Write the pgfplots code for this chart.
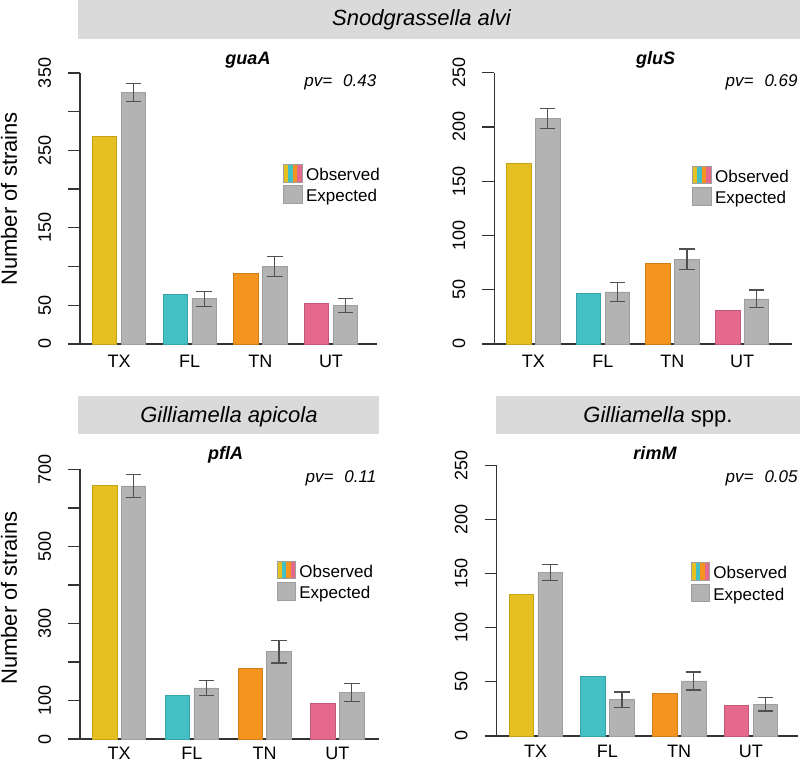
\documentclass[border=0pt]{standalone}
\usepackage{fontspec}
\setmainfont{Liberation Sans}
\usepackage{pgfplots}
\usepackage{pgfplotstable}
\pgfplotsset{compat=1.18}
\definecolor{cY}{HTML}{E6C021}
\definecolor{cC}{HTML}{42C0C3}
\definecolor{cO}{HTML}{F5951F}
\definecolor{cP}{HTML}{E5698C}
\definecolor{cG}{HTML}{B3B3B3}
\definecolor{cGb}{HTML}{9E9E9E}
\definecolor{banner}{HTML}{DADADA}
\definecolor{axc}{HTML}{333333}
\definecolor{errc}{HTML}{505050}

\pgfplotstableread{
x obs exp err
0 268 325 11.5
1 64 58.5 9.7
2 91 100 12.7
3 52 50 9
}\tA
\pgfplotstableread{
x obs exp err
0 166.5 208 9.2
1 47 48 8.9
2 74 78 9.6
3 31 41.5 8.2
}\tB
\pgfplotstableread{
x obs exp err
0 659 657 29.5
1 113 133 20
2 183 227 29.5
3 93 121 23
}\tC
\pgfplotstableread{
x obs exp err
0 131 151 7.1
1 55 33.6 7
2 39 50.8 8.2
3 28 29.5 6.3
}\tD

\pgfplotsset{
  panel/.style={
    scale only axis, clip=false, anchor=south west,
    axis y line*=left, axis x line*=bottom,
    x axis line style={draw=none},
    y axis line style={axc, line width=0.65pt, -},
    ytick style={axc, line width=0.65pt},
    xtick style={draw=none},
    tick align=outside, major tick length=6pt,
    ymin=0, xtick={0,1,2,3}, xticklabels={TX,FL,TN,UT},
    tick label style={font=\fontsize{9}{10}\selectfont},
    xticklabel style={yshift=4pt},
    yticklabel style={rotate=90, anchor=south, yshift=5pt},
    /pgf/number format/assume math mode=true,
  },
  obsbar/.style={ybar, bar width=12.25pt, bar shift=0pt, fill=#1, draw=#1!85!black, line width=0.35pt},
  expbar/.style={ybar, bar width=12.25pt, bar shift=0pt, fill=cG, draw=cGb, line width=0.35pt,
    error bars/.cd, y dir=both, y explicit,
    error bar style={errc, line width=0.65pt},
    error mark options={errc, line width=0.65pt, mark size=3.85pt, rotate=90}},
}

\newcommand{\obsleg}[2]{%
  \fill[cY] (#1,#2) rectangle ++(2.2875pt,-8.85pt);
  \fill[cC] (#1+2.2875pt,#2) rectangle ++(2.2875pt,-8.85pt);
  \fill[cO] (#1+4.575pt,#2) rectangle ++(2.2875pt,-8.85pt);
  \fill[cP] (#1+6.8625pt,#2) rectangle ++(2.2875pt,-8.85pt);
  \draw[cGb, line width=0.3pt] (#1,#2) rectangle ++(9.15pt,-8.85pt);
  \fill[cG, draw=cGb, line width=0.3pt] (#1,#2-10.7pt) rectangle ++(9.15pt,-8.85pt);
  \node[anchor=base west, inner sep=0pt, font=\fontsize{8.5}{10}\selectfont] at (#1+11pt,#2-8.1pt) {Observed};
  \node[anchor=base west, inner sep=0pt, font=\fontsize{8.5}{10}\selectfont] at (#1+11pt,#2-18.85pt) {Expected};
}

\begin{document}
\begin{tikzpicture}
\useasboundingbox (0,0) rectangle (400pt,381.5pt);

% banners
\fill[banner] (39pt,381.5pt) rectangle (400pt,362pt);
\node[font=\fontsize{11}{13}\selectfont\itshape] at (210.75pt,371.5pt) {Snodgrassella alvi};
\fill[banner] (39pt,183.65pt) rectangle (189.5pt,164.35pt);
\node[font=\fontsize{11}{13}\selectfont\itshape] at (114.5pt,173.15pt) {Gilliamella apicola};
\fill[banner] (248pt,183.65pt) rectangle (400pt,164.35pt);
\node[font=\fontsize{11}{13}\selectfont] at (329pt,173.15pt) {\textit{Gilliamella} spp.};

% y labels
\node[rotate=90, inner sep=0pt, font=\fontsize{11}{13}\selectfont] at (4.5pt,282pt) {Number of strains};
\node[rotate=90, inner sep=0pt, font=\fontsize{11}{13}\selectfont] at (4.5pt,82.5pt) {Number of strains};

% Panel 1 guaA
\begin{axis}[panel, at={(40pt,209.5pt)}, width=148.5pt, height=135.5pt,
  xmin=-0.552, xmax=3.651, ymax=350,
  ytick={0,50,...,350}, yticklabels={0,50,,150,,250,,350}]
\draw[axc, line width=0.9pt] (axis cs:-0.722,0) -- (axis cs:3.651,0);
\addplot[obsbar=cY] coordinates {(-0.205,268)};
\addplot[obsbar=cC] coordinates {(0.795,64)};
\addplot[obsbar=cO] coordinates {(1.795,91)};
\addplot[obsbar=cP] coordinates {(2.795,52)};
\addplot[expbar] table[x expr=\thisrow{x}+0.205, y=exp, y error=err] {\tA};
\end{axis}

% Panel 2 gluS
\begin{axis}[panel, at={(247.15pt,209.5pt)}, width=148.85pt, height=135.65pt,
  xmin=-0.560, xmax=3.717, ymax=250,
  ytick={0,50,...,250}]
\draw[axc, line width=0.9pt] (axis cs:-0.741,0) -- (axis cs:3.717,0);
\addplot[obsbar=cY] coordinates {(-0.208,166.5)};
\addplot[obsbar=cC] coordinates {(0.792,47)};
\addplot[obsbar=cO] coordinates {(1.792,74)};
\addplot[obsbar=cP] coordinates {(2.792,31)};
\addplot[expbar] table[x expr=\thisrow{x}+0.208, y=exp, y error=err] {\tB};
\end{axis}

% Panel 3 pflA
\begin{axis}[panel, at={(40pt,11.85pt)}, width=149.5pt, height=135pt,
  xmin=-0.536, xmax=3.571, ymax=700, xticklabel style={yshift=1.5pt},
  ytick={0,100,...,700}, yticklabels={0,100,,300,,500,,700}]
\draw[axc, line width=0.9pt] (axis cs:-0.701,0) -- (axis cs:3.571,0);
\addplot[obsbar=cY] coordinates {(-0.198,659)};
\addplot[obsbar=cC] coordinates {(0.802,113)};
\addplot[obsbar=cO] coordinates {(1.802,183)};
\addplot[obsbar=cP] coordinates {(2.802,93)};
\addplot[expbar] table[x expr=\thisrow{x}+0.198, y=exp, y error=err] {\tC};
\end{axis}

% Panel 4 rimM
\begin{axis}[panel, at={(248.35pt,13.5pt)}, width=150.65pt, height=135.35pt,
  xmin=-0.544, xmax=3.658, ymax=250, xticklabel style={yshift=0.8pt},
  ytick={0,50,...,250}]
\draw[axc, line width=0.9pt] (axis cs:-0.707,0) -- (axis cs:3.658,0);
\addplot[obsbar=cY] coordinates {(-0.202,131)};
\addplot[obsbar=cC] coordinates {(0.798,55)};
\addplot[obsbar=cO] coordinates {(1.798,39)};
\addplot[obsbar=cP] coordinates {(2.798,28)};
\addplot[expbar] table[x expr=\thisrow{x}+0.202, y=exp, y error=err] {\tD};
\end{axis}

% titles
\node[anchor=base, inner sep=0pt, font=\fontsize{9}{11}\selectfont\bfseries\itshape] at (124pt,349pt) {guaA};
\node[anchor=base, inner sep=0pt, font=\fontsize{9}{11}\selectfont\bfseries\itshape] at (327.75pt,349pt) {gluS};
\node[anchor=base, inner sep=0pt, font=\fontsize{9}{11}\selectfont\bfseries\itshape] at (112.85pt,151.5pt) {pflA};
\node[anchor=base, inner sep=0pt, font=\fontsize{9}{11}\selectfont\bfseries\itshape] at (327.5pt,151.5pt) {rimM};

% p-values
\node[anchor=east, inner sep=0pt, font=\fontsize{8.5}{10}\selectfont\itshape] at (188.35pt,340.5pt) {pv=\hspace{5.5pt}0.43};
\node[anchor=east, inner sep=0pt, font=\fontsize{8.5}{10}\selectfont\itshape] at (399pt,340.5pt) {pv=\hspace{5.5pt}0.69};
\node[anchor=east, inner sep=0pt, font=\fontsize{8.5}{10}\selectfont\itshape] at (188.35pt,142.15pt) {pv=\hspace{5.5pt}0.11};
\node[anchor=east, inner sep=0pt, font=\fontsize{8.5}{10}\selectfont\itshape] at (399pt,142.15pt) {pv=\hspace{5.5pt}0.05};

% legends
\obsleg{141.85pt}{299.35pt}
\obsleg{346.35pt}{298.5pt}
\obsleg{138.5pt}{101pt}
\obsleg{345.5pt}{100.15pt}
\end{tikzpicture}
\end{document}
